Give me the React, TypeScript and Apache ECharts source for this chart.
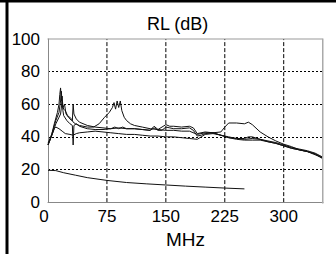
import React, { useEffect, useRef } from "react";
import * as echarts from "echarts";

const xTicks = [0, 75, 150, 225, 300];
const yTicks = [0, 20, 40, 60, 80, 100];
const xGrid = [75, 150, 225, 300];

const t1X = [0, 4, 8, 12, 14, 15, 16, 17, 18, 19, 21, 23, 26, 30, 31, 32, 33, 36, 40, 50, 60, 70, 80, 90, 100, 110, 120, 130, 135, 140, 145, 150, 155, 160, 170, 180, 185, 190, 195, 200, 210, 220, 230, 240, 250, 260, 270, 280, 290, 300, 310, 320, 330, 340, 350];
const t1Y = [35, 40, 48, 55, 60, 66, 70, 62, 65, 58, 60, 54, 52, 50, 50, 60, 54, 51, 49, 47, 46, 45.5, 45, 45.5, 45, 45, 44.5, 44, 45.5, 44, 44, 46, 45.5, 45, 45, 45.5, 44, 40.5, 41, 42, 42.5, 41, 40, 39, 38.5, 39, 38.5, 37, 36, 34.5, 33, 32, 31, 29.5, 27];

const t2X = [0, 5, 10, 14, 16, 17, 18, 20, 22, 25, 30, 32, 35, 40, 50, 58, 65, 72, 78, 82, 84, 86, 88, 90, 92, 94, 97, 100, 105, 110, 120, 130, 140, 150, 160, 170, 180, 190, 200, 210, 220, 225, 230, 240, 250, 255, 260, 270, 280, 290, 300, 310, 320, 330, 340, 350];
const t2Y = [36, 42, 50, 55, 62, 68, 60, 57, 56, 53, 51, 49, 48, 47, 46, 46, 48, 52, 55, 58, 61, 57, 62, 58, 62, 56, 52, 50, 48, 47, 46, 45, 44.5, 44, 44, 43.5, 43.5, 41.5, 42.5, 42.5, 43, 46, 48.5, 48.5, 48, 49, 47.5, 43, 40, 37.5, 35.5, 34, 32, 31, 29, 27];

const t3X = [0, 4, 8, 10, 14, 18, 22, 28, 32, 36, 40, 50, 60, 70, 80, 90, 100, 110, 120, 130, 140, 150, 160, 170, 180, 190, 195, 200, 210, 220, 230, 240, 250, 260, 270, 280, 290, 300, 310, 320, 330, 340, 350];
const t3Y = [35, 40, 45, 46, 45, 43.5, 42, 41.5, 41, 42, 42.5, 43, 43.5, 43, 42.5, 42, 41.5, 41.5, 41, 40.5, 40.5, 40, 40, 39.5, 39, 38.5, 40, 41.5, 42, 41, 39.5, 38.5, 38, 38, 38, 37, 36, 34.5, 33, 32, 31, 29.5, 26.5];

const t4X = [0, 5, 10, 14, 16, 18, 19, 20, 24, 28, 31, 32, 33, 36, 40, 50, 60, 70, 80, 85, 90, 95, 100, 110, 120, 130, 135, 140, 150, 155, 160, 170, 180, 185, 190, 200, 210, 220, 230, 240, 250, 255, 260, 270, 280, 290, 300, 310, 320, 330, 340, 350];
const t4Y = [35, 41, 48, 52, 54, 62, 56, 53, 50, 48, 47, 35, 47, 48, 46.5, 45, 44.5, 44.5, 45, 46, 45, 46, 45, 45, 44.5, 44, 46.5, 44.5, 47.5, 46.5, 46.5, 46, 46.5, 45.5, 42, 43, 42.5, 41, 39.5, 39, 39, 40, 40, 38.5, 37.5, 36.5, 35, 33.5, 32.5, 31.5, 30, 27.5];

const t5X = [0, 10, 20, 35, 50, 75, 100, 125, 150, 175, 200, 225, 250];
const t5Y = [19.5, 19.3, 18, 16.5, 15, 13.3, 12, 11.2, 10.5, 9.8, 9.2, 8.6, 8.1];

const traces = [
  [t1X, t1Y],
  [t2X, t2Y],
  [t3X, t3Y],
  [t4X, t4Y],
  [t5X, t5Y],
];

const FONT = "'Liberation Sans', Arial, sans-serif";

export default function App() {
  const ref = useRef<HTMLDivElement>(null);
  useEffect(() => {
    if (!ref.current) return;
    const chart = echarts.init(ref.current, null, { renderer: "svg" });
    const gridLineSeries = (data: number[][]) => ({
      type: "line",
      data,
      silent: true,
      showSymbol: false,
      symbol: "none",
      lineStyle: { color: "#000", type: "dashed", width: 1 },
      z: 1,
    });
    chart.setOption({
      animation: false,
      backgroundColor: "#fff",
      title: {
        text: "RL (dB)",
        left: 142,
        top: 10,
        textStyle: { fontFamily: FONT, fontSize: 18, fontWeight: "normal", color: "#000" },
      },
      grid: { left: 48, right: 13, top: 39, bottom: 50.5, show: false },
      xAxis: {
        type: "value",
        min: 0,
        max: 350,
        interval: 75,
        name: "MHz",
        nameLocation: "middle",
        nameGap: 25,
        nameTextStyle: { fontFamily: FONT, fontSize: 19, color: "#000" },
        axisLine: { show: true, onZero: false, lineStyle: { color: "#888", width: 1 } },
        axisTick: { show: false },
        axisLabel: {
          fontFamily: FONT,
          fontSize: 17,
          color: "#000",
          margin: 6,
          showMaxLabel: false,
          formatter: (v: number) => (xTicks.includes(v) ? (v === 0 ? "{z|0}" : String(v)) : ""),
          rich: { z: { fontFamily: FONT, fontSize: 17, color: "#000", padding: [0, 8, 0, 0] } },
        },
        splitLine: { show: false },
      },
      yAxis: {
        type: "value",
        min: 0,
        max: 100,
        interval: 20,
        axisLine: { show: true, lineStyle: { color: "#888", width: 1 } },
        axisTick: { show: false },
        axisLabel: {
          fontFamily: FONT,
          fontSize: 17,
          color: "#000",
          margin: 8,
          formatter: (v: number) => (yTicks.includes(v) ? String(v) : ""),
        },
        splitLine: {
          show: true,
          showMinLine: false,
          showMaxLine: false,
          lineStyle: { color: "#000", type: [2, 2], width: 1 },
        },
      },
      series: [
        ...xGrid.map((v) => gridLineSeries([[v, 0], [v, 100]])),
        ...traces.map(([xs, ys]) => ({
          type: "line",
          data: xs.map((x, i) => [x, ys[i]]),
          showSymbol: false,
          symbol: "none",
          lineStyle: { color: "#111", width: 1 },
          z: 3,
        })),
      ],
      graphic: [
        { type: "rect", shape: { x: 5.5, y: 0, width: 3, height: 254 }, style: { fill: "#000" }, z: 100 },
        { type: "rect", shape: { x: 0, y: 0, width: 336, height: 2.5 }, style: { fill: "#000" }, z: 100 },
        { type: "rect", shape: { x: 47.5, y: 38.5, width: 275, height: 1 }, style: { fill: "#999" }, z: 100 },
        { type: "rect", shape: { x: 322, y: 38.5, width: 1.5, height: 165 }, style: { fill: "#aaa" }, z: 100 },
      ],
    });
    return () => chart.dispose();
  }, []);
  return (
    <div
      ref={ref}
      style={{ position: "fixed", left: 0, top: 0, width: 336, height: 254, background: "#fff" }}
    />
  );
}
